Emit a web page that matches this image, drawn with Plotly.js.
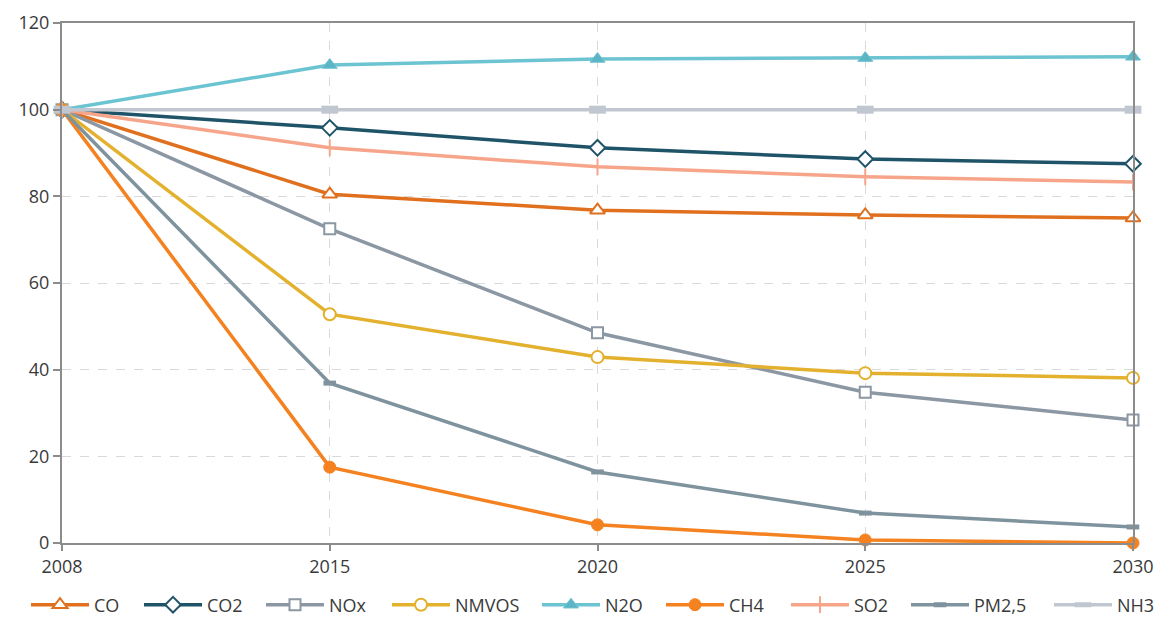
<!DOCTYPE html>
<html>
<head>
<meta charset="utf-8">
<script src="https://cdn.plot.ly/plotly-3.0.1.min.js"></script>
<style>html,body{margin:0;padding:0;background:#fff;}#chart{width:1164px;height:619px;}</style>
</head>
<body>
<div id="chart"></div>
<script>
const years = ["2008", "2015", "2020", "2025", "2030"];
const CO    = [100, 80.5, 76.8, 75.7, 75.0];
const CO2   = [100, 95.8, 91.2, 88.6, 87.5];
const NOx   = [100, 72.5, 48.5, 34.8, 28.4];
const NMVOS = [100, 52.8, 42.9, 39.2, 38.1];
const N2O   = [100, 110.3, 111.7, 111.9, 112.2];
const CH4   = [100, 17.5, 4.2, 0.7, 0.0];
const SO2   = [100, 91.2, 86.8, 84.5, 83.3];
const PM25  = [100, 36.9, 16.4, 6.9, 3.7];
const NH3   = [100, 100, 100, 100, 100];

// legend entry left positions (px in the figure)
const legendX = [32, 145, 267, 393, 543, 667, 792, 912, 1055];

function tr(name, y, color, symbol, mcolor, msize, mline, idx) {
  return {
    type: "scatter", mode: "lines+markers", name: name, x: years, y: y,
    cliponaxis: false,
    legend: idx === 0 ? "legend" : "legend" + (idx + 1),
    line: {color: color, width: 3.5},
    marker: {symbol: symbol, size: msize, color: mcolor, line: {color: color, width: mline}}
  };
}
const data = [
  tr("CO", CO, "#E0701E", "triangle-up", "#ffffff", 13, 2, 0),
  tr("CO2", CO2, "#1F5468", "diamond", "#ffffff", 12, 2, 1),
  tr("NOx", NOx, "#8C97A4", "square", "#ffffff", 11, 2, 2),
  tr("NMVOS", NMVOS, "#E3B12E", "circle", "#ffffff", 12, 2, 3),
  tr("N2O", N2O, "#6CC3D1", "triangle-up", "#5BB5C4", 13, 1, 4),
  tr("CH4", CH4, "#F58220", "circle", "#F58220", 12, 1, 5),
  tr("SO2", SO2, "#F7A58A", "line-ns", "#F7A58A", 12, 2, 6),
  tr("PM2,5", PM25, "#7F939E", "line-ew", "#7F939E", 9, 5, 7),
  tr("NH3", NH3, "#C0C7D0", "line-ew", "#C0C7D0", 12, 8, 8)
];

const layout = {
  width: 1164, height: 619,
  margin: {l: 62, r: 31, t: 23, b: 76},
  paper_bgcolor: "#ffffff", plot_bgcolor: "#ffffff",
  font: {family: "Open Sans, DejaVu Sans, sans-serif", size: 18, color: "#404040"},
  showlegend: true,
  xaxis: {
    type: "category", range: [0, 4], showline: true, linecolor: "#8c8c8c", linewidth: 2, mirror: true,
    showgrid: true, gridcolor: "#d9d9d9", griddash: "dash", gridwidth: 1,
    ticks: "outside", ticklen: 6, tickcolor: "#8c8c8c", tickwidth: 2,
    tickfont: {size: 18, color: "#3a3a3a"}, zeroline: false, fixedrange: true
  },
  yaxis: {
    range: [0, 120], tickvals: [0, 20, 40, 60, 80, 100, 120], showline: true, linecolor: "#8c8c8c",
    linewidth: 2, mirror: true, showgrid: true, gridcolor: "#d9d9d9", griddash: "dash", gridwidth: 1,
    ticks: "outside", ticklen: 7, tickcolor: "#8c8c8c", tickwidth: 2,
    tickfont: {size: 18, color: "#3a3a3a"}, zeroline: false, fixedrange: true
  }
};
legendX.forEach(function (px, i) {
  const key = i === 0 ? "legend" : "legend" + (i + 1);
  layout[key] = {
    orientation: "h", xref: "container", yref: "container",
    x: (px - 6) / 1164, xanchor: "left", y: (619 - 605) / 619, yanchor: "middle",
    itemwidth: 58, font: {size: 18, color: "#3a3a3a"}, valign: "middle",
    bgcolor: "rgba(0,0,0,0)", borderwidth: 0
  };
});
Plotly.newPlot("chart", data, layout, {displayModeBar: false, staticPlot: true});
</script>
</body>
</html>
